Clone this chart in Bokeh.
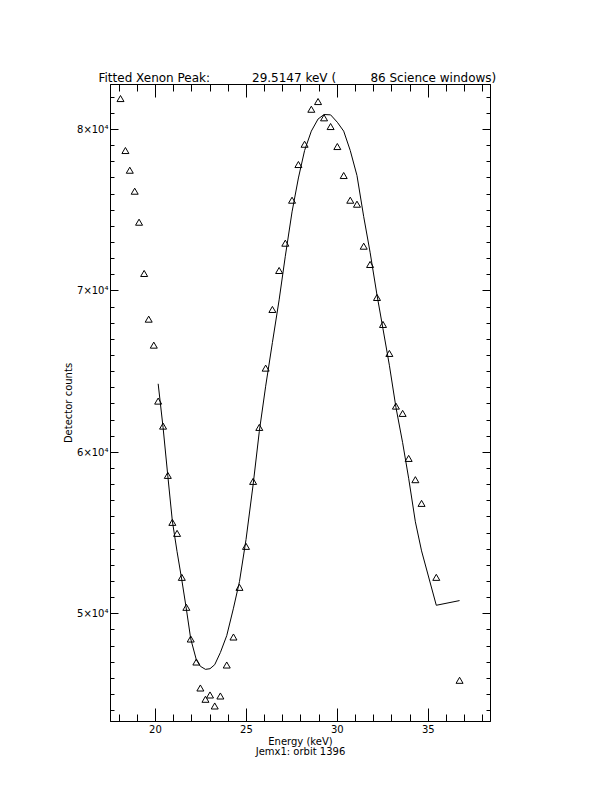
from bokeh.plotting import figure
from bokeh.models import FixedTicker, LinearAxis, Range1d, Title
from bokeh.embed import file_html
from bokeh.resources import INLINE

# ---- data ----
energy = [18.08, 18.35, 18.59, 18.86, 19.10, 19.38, 19.63, 19.91,
          20.15, 20.42, 20.68, 20.93, 21.19, 21.45, 21.70, 21.94, 22.25, 22.47,
          22.75, 23.00, 23.26, 23.57, 23.92, 24.29, 24.62, 24.98, 25.37, 25.71,
          26.06, 26.43, 26.80, 27.14, 27.51, 27.86, 28.20, 28.57, 28.94, 29.27,
          29.63, 30.00, 30.35, 30.71, 31.08, 31.45, 31.80, 32.18, 32.51, 32.86,
          33.22, 33.59, 33.92, 34.29, 34.63, 35.44, 36.72]
counts = [81858, 78638, 77418, 76118, 74198, 71022, 68192, 66582,
          63115, 61566, 58514, 55604, 54922, 52198, 50341, 48378, 46953, 45343,
          44644, 44910, 44229, 44848, 46767, 48501, 51578, 54117, 58142, 61486,
          65158, 68793, 71207, 72898, 75560, 77771, 79028, 81195, 81672, 80663,
          80124, 78885, 77090, 75560, 75313, 72712, 71579, 69535, 67864, 66068,
          62805, 62353, 59566, 58247, 56780, 52198, 45820]

fit_energy = energy[8:]
fit_counts = [64250, 61550, 58550, 55750, 53850, 52100, 50300, 48450, 47150, 46750,
              46560, 46600, 46850, 47600, 48650, 50350, 52000, 54600, 58000, 61300,
              64100, 66800, 69450, 72150, 74900, 77000, 78700, 79900, 80650, 80930,
              80910, 80450, 79900, 78700, 77150, 74600, 72400, 69750, 67650, 65400,
              62800, 60600, 58400, 55700, 53900, 50530, 50820]

x_major = [20, 25, 30, 35]
x_minor = list(range(18, 39))
y_major = [50000, 60000, 70000, 80000]
y_minor = list(range(44000, 83000, 1000))
y_labels = {50000: "5×10⁴", 60000: "6×10⁴", 70000: "7×10⁴", 80000: "8×10⁴"}

title_text = ("Fitted Xenon Peak:" + "\u00a0" * 11 + "29.5147 keV (" + "\u00a0" * 9
              + "86 Science windows)")
x_label = "Energy (keV)\nJemx1: orbit 1396"
FONT = "DejaVu Sans"

p = figure(width=590, height=770, output_backend="svg", toolbar_location=None,
           x_range=Range1d(17.53, 38.42), y_range=Range1d(43330, 82790),
           min_border_left=110, min_border_right=100, min_border_top=84,
           min_border_bottom=49, title=None)
p.background_fill_color = "white"
p.border_fill_color = "white"
p.outline_line_color = "black"
p.outline_line_width = 1
p.grid.visible = False

# bottom axis
xa = p.xaxis[0]
xa.ticker = FixedTicker(ticks=x_major, minor_ticks=x_minor)
xa.major_tick_in = 13
xa.major_tick_out = 0
xa.minor_tick_in = 7
xa.minor_tick_out = 0
xa.axis_label = x_label
xa.axis_label_standoff = 0
xa.axis_label_text_line_height = 0.95
xa.major_label_standoff = 3
xa.axis_label_text_font = FONT
xa.axis_label_text_font_size = "10px"
xa.axis_label_text_font_style = "normal"
xa.major_label_text_font = FONT
xa.major_label_text_font_size = "10px"

# left axis
ya = p.yaxis[0]
ya.ticker = FixedTicker(ticks=y_major, minor_ticks=y_minor)
ya.major_label_overrides = y_labels
ya.major_tick_in = 8
ya.major_tick_out = 0
ya.minor_tick_in = 4
ya.minor_tick_out = 0
ya.axis_label = "Detector counts"
ya.axis_label_standoff = 0
ya.major_label_standoff = 2
ya.axis_label_text_font = FONT
ya.axis_label_text_font_size = "10px"
ya.axis_label_text_font_style = "normal"
ya.major_label_text_font = FONT
ya.major_label_text_font_size = "10px"

for a in [xa, ya]:
    a.axis_line_color = "black"
    a.major_tick_line_color = "black"
    a.minor_tick_line_color = "black"
    a.major_label_text_color = "black"
    a.axis_label_text_color = "black"

# mirrored top / right axes (ticks only, no labels)
top = LinearAxis(ticker=FixedTicker(ticks=x_major, minor_ticks=x_minor),
                 major_tick_in=13, major_tick_out=0, minor_tick_in=7, minor_tick_out=0,
                 major_label_overrides={t: "" for t in x_major}, major_label_standoff=0,
                 axis_line_color="black", major_tick_line_color="black",
                 minor_tick_line_color="black")
right = LinearAxis(ticker=FixedTicker(ticks=y_major, minor_ticks=y_minor),
                   major_tick_in=8, major_tick_out=0, minor_tick_in=4, minor_tick_out=0,
                   major_label_overrides={t: "" for t in y_major}, major_label_standoff=0,
                   axis_line_color="black", major_tick_line_color="black",
                   minor_tick_line_color="black")
p.add_layout(top, "above")
p.add_layout(right, "right")

p.add_layout(Title(text=title_text, align="left", offset=-12, standoff=0,
                   text_font=FONT, text_font_size="12px", text_font_style="normal",
                   text_color="black"), "above")

p.scatter(energy, counts, marker="triangle", size=7, fill_color=None,
          line_color="black", line_width=1)
p.line(fit_energy, fit_counts, line_color="black", line_width=1)

open("out.html", "w").write(file_html(p, INLINE))
